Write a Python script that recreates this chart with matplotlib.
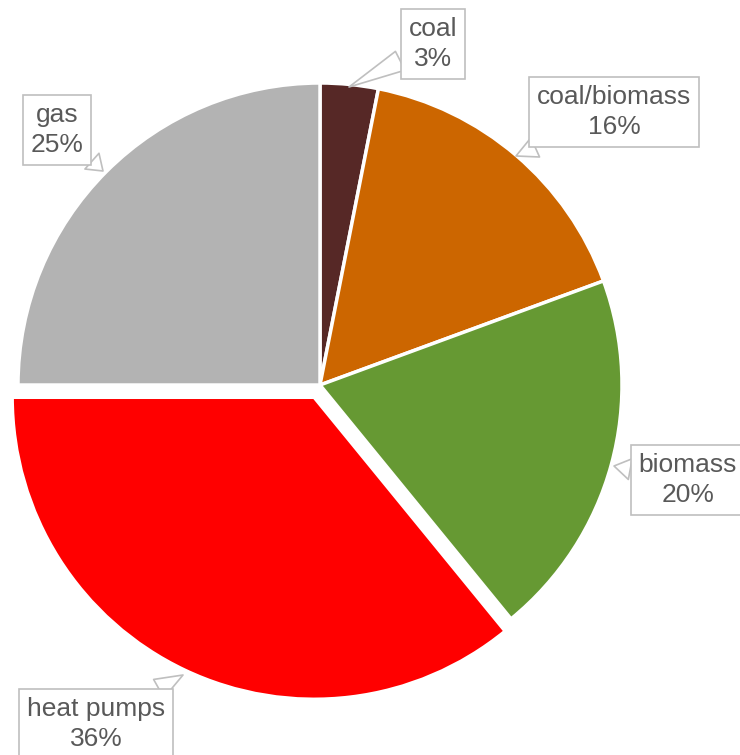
import matplotlib.pyplot as plt
import numpy as np

plt.rcParams['font.family'] = ['Liberation Sans', 'DejaVu Sans']

labels = ['coal', 'coal/biomass', 'biomass', 'heat pumps', 'gas']
shares = [3.1, 16.3, 19.7, 35.9, 25.0]
colors = ['#562826', '#CC6600', '#669933', '#FF0000', '#B3B3B3']
explode = [0, 0, 0, 0.045, 0]

# label box centres and leader tips, in pixels (x from left, y from top)
box_xy = [(433, 44), (614, 112), (688, 480), (96, 724), (57, 130)]
tip_xy = [(349, 87), (516, 156), (614, 466), (183, 675), (103, 171)]

CX, CY, R = 320, 385, 302


def px(p):
    return ((p[0] - CX) / R, (CY - p[1]) / R)


fig = plt.figure(figsize=(7.4, 7.55), dpi=100)
ax = fig.add_axes([0, 0, 1, 1])
ax.pie(shares, colors=colors, explode=explode, startangle=90, counterclock=False,
       radius=1, wedgeprops=dict(edgecolor='white', linewidth=2.5))
ax.set_xlim(-CX / R, (740 - CX) / R)
ax.set_ylim(-(755 - CY) / R, CY / R)
ax.set_aspect('equal')
ax.axis('off')

for lab, v, b, t in zip(labels, shares, box_xy, tip_xy):
    ax.annotate(lab + '\n' + str(int(round(v))) + '%', xy=px(t), xytext=px(b),
                ha='center', va='center', fontsize=19, color='#595959',
                linespacing=1.3,
                bbox=dict(boxstyle='square,pad=0.3', fc='white', ec='#BFBFBF', lw=1.2),
                arrowprops=dict(arrowstyle='wedge,tail_width=0.8', fc='white',
                                ec='#BFBFBF', lw=1.2, shrinkA=0, shrinkB=0))

fig.savefig('out.png', dpi=100)
